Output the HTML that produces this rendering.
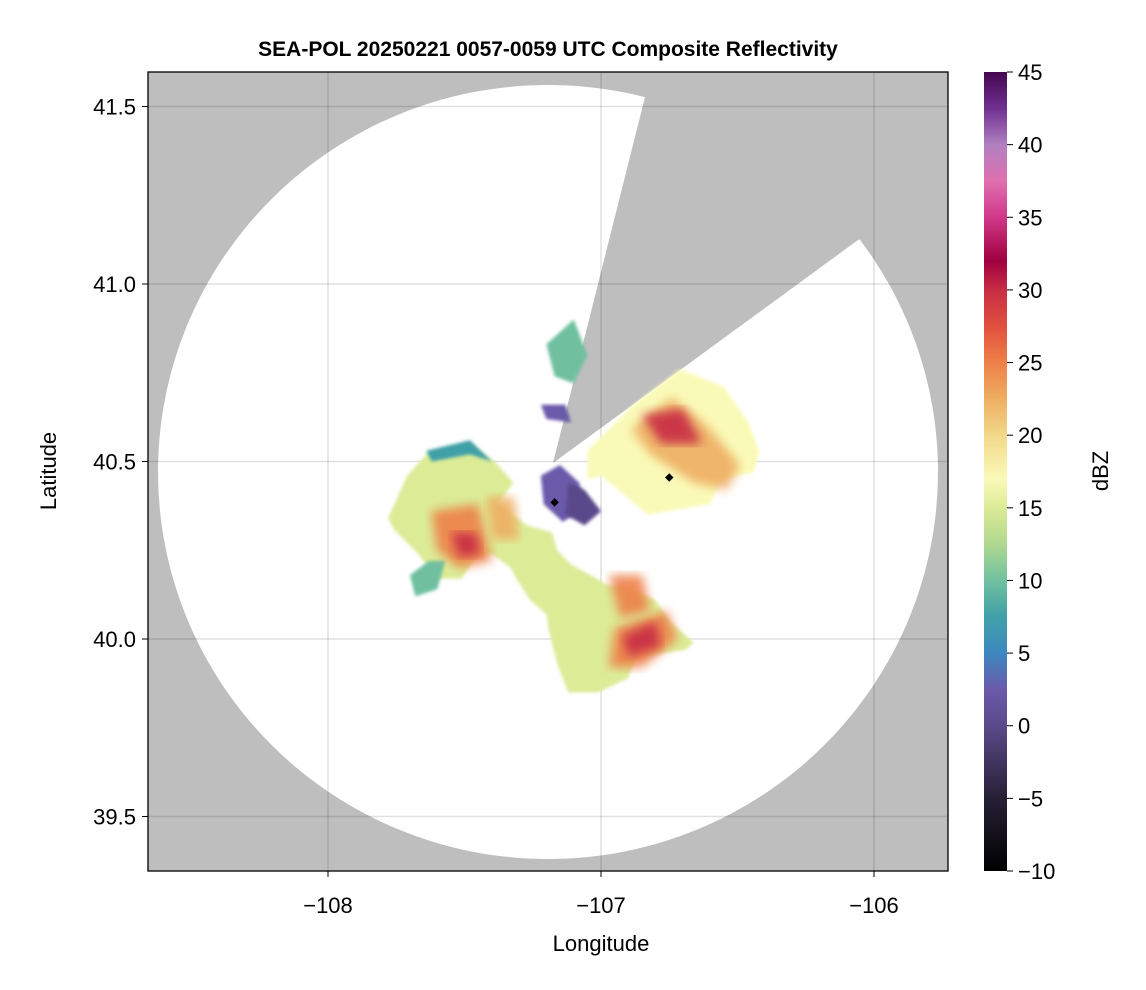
<!DOCTYPE html>
<html><head><meta charset="utf-8"><style>
body{margin:0;background:#fff;}
svg{display:block;font-family:"Liberation Sans",sans-serif;}
</style></head><body>
<svg id="chart" width="1146" height="990" viewBox="0 0 1146 990">
<defs>
<clipPath id="plotclip"><rect x="148" y="72" width="800" height="799"/></clipPath>
<filter id="blur2"><feGaussianBlur stdDeviation="1.5"/></filter>
<filter id="blur5"><feGaussianBlur stdDeviation="5"/></filter>
<linearGradient id="cmap" x1="0" y1="1" x2="0" y2="0"></linearGradient>
</defs>
<text x="548" y="56" text-anchor="middle" font-size="21" font-weight="bold">SEA-POL 20250221 0057-0059 UTC Composite Reflectivity</text>
<g clip-path="url(#plotclip)">
<rect x="148" y="72" width="800" height="799" fill="#bebebe"/>
<ellipse cx="548" cy="472" rx="390" ry="387" fill="#fff"/>
<polygon points="553,463 645,97 647,40 1000,40 1000,200 858,240" fill="#bebebe"/>
<g id="grid"></g>
<g id="echoes"></g>
</g>
<rect x="148" y="72" width="800" height="799" fill="none" stroke="#000" stroke-width="1.3"/>
<g id="axes"></g>
<rect x="984" y="72" width="23" height="799" fill="url(#cmap)"/>
<g id="cbar"></g>
<text x="601" y="951" text-anchor="middle" font-size="22">Longitude</text>
<text transform="translate(56,471) rotate(-90)" text-anchor="middle" font-size="22">Latitude</text>
<text transform="translate(1108,471) rotate(-90)" text-anchor="middle" font-size="22">dBZ</text>
</svg>
<script>
const xTicks=[-108,-107,-106];
const yTicks=[39.5,40.0,40.5,41.0,41.5];
const cbTicks=[-10,-5,0,5,10,15,20,25,30,35,40,45];
const cmapValues=[-10,-5,0,2.5,5,7.5,10,12.5,15,17,20,22.5,25,27.5,30,32,35,37.5,40,42.5,45];
const cmapColors=["#000000","#262035","#5a4a8a","#6a5aaa","#3e88c0","#40a0a8","#70c0a0","#b0d890","#dceb96","#fafab8","#f2d88a","#eeae62","#ee8048","#e0503e","#c82c44","#a00040","#d03888","#e070b0","#b080c0","#703090","#440550"];
const echoNames=["west-south-band","east-cell","nw-arm","north-fragment","north-purple","west-edge-blue","east-core","west-core","west-core2","south-core1","south-core2","south-red","east-red","west-red","clear-air-blue","clear-air-dark"];
const echoDbz=[14,17,10,9,2,7,23,24,22,24,25,31,29,29,2,-1];
const echoPolys=[
[[-107.78,40.34],[-107.71,40.46],[-107.64,40.52],[-107.48,40.55],[-107.39,40.50],[-107.32,40.44],[-107.38,40.38],[-107.27,40.32],[-107.18,40.30],[-107.16,40.25],[-107.11,40.21],[-106.97,40.15],[-106.92,40.15],[-106.80,40.11],[-106.75,40.05],[-106.66,39.99],[-106.69,39.97],[-106.87,39.95],[-106.90,39.89],[-107.01,39.85],[-107.12,39.85],[-107.16,39.93],[-107.19,40.02],[-107.20,40.07],[-107.26,40.11],[-107.31,40.17],[-107.33,40.20],[-107.40,40.24],[-107.46,40.23],[-107.51,40.17],[-107.60,40.17],[-107.67,40.24],[-107.76,40.31]],
[[-107.05,40.45],[-107.05,40.53],[-106.88,40.66],[-106.71,40.76],[-106.55,40.71],[-106.46,40.61],[-106.42,40.53],[-106.44,40.47],[-106.56,40.45],[-106.60,40.38],[-106.76,40.36],[-106.83,40.35],[-106.95,40.43],[-107.00,40.46]],
[[-107.70,40.18],[-107.63,40.22],[-107.57,40.22],[-107.60,40.14],[-107.68,40.12]],
[[-107.20,40.83],[-107.10,40.90],[-107.05,40.80],[-107.10,40.72],[-107.17,40.74]],
[[-107.22,40.66],[-107.13,40.66],[-107.11,40.61],[-107.20,40.62]],
[[-107.64,40.53],[-107.48,40.56],[-107.40,40.50],[-107.48,40.52],[-107.62,40.50]],
[[-106.89,40.59],[-106.74,40.68],[-106.61,40.60],[-106.49,40.49],[-106.54,40.42],[-106.66,40.44],[-106.82,40.52]],
[[-107.62,40.36],[-107.45,40.38],[-107.40,40.22],[-107.52,40.20],[-107.60,40.25]],
[[-107.42,40.40],[-107.32,40.40],[-107.30,40.28],[-107.40,40.28]],
[[-106.97,40.18],[-106.85,40.18],[-106.82,40.08],[-106.93,40.06]],
[[-106.95,40.03],[-106.76,40.08],[-106.72,40.00],[-106.85,39.92],[-106.97,39.92]],
[[-106.92,40.01],[-106.80,40.05],[-106.78,39.98],[-106.90,39.95]],
[[-106.85,40.63],[-106.70,40.65],[-106.63,40.55],[-106.78,40.55]],
[[-107.55,40.30],[-107.46,40.30],[-107.44,40.24],[-107.52,40.23]],
[[-107.22,40.46],[-107.15,40.49],[-107.08,40.44],[-107.06,40.37],[-107.14,40.33],[-107.21,40.38]],
[[-107.12,40.44],[-107.06,40.42],[-107.00,40.36],[-107.06,40.32],[-107.13,40.35]]
];
const xS=v=>601+(v+107)*273;
const yS=v=>639-(v-40)*355;
const ns="http://www.w3.org/2000/svg";
function mk(t,a,p){const e=document.createElementNS(ns,t);for(const k in a)e.setAttribute(k,a[k]);p.appendChild(e);return e;}
function col(v){let b=0,d=1e9;cmapValues.forEach((c,i)=>{if(Math.abs(c-v)<d){d=Math.abs(c-v);b=i;}});return cmapColors[b];}
const grad=document.getElementById('cmap');
for(let i=0;i<cmapValues.length;i++){
 const o=((cmapValues[i]+10)/55*100)+'%';
 mk('stop',{offset:o,'stop-color':cmapColors[i]},grad);
}
const grid=document.getElementById('grid'),axes=document.getElementById('axes'),cb=document.getElementById('cbar'),echo=document.getElementById('echoes');
xTicks.forEach(t=>{
 const g=mk('line',{x1:xS(t),x2:xS(t),y1:72,y2:871,stroke:'rgba(0,0,0,0.12)','stroke-width':1.5},grid);
 
 
 const tk=mk('line',{x1:xS(t),x2:xS(t),y1:871,y2:877,stroke:'#000'},axes);
 
 
 const l=mk('text',{x:xS(t),y:913,'text-anchor':'middle','font-size':22},axes);
 l.textContent=String(t).replace('-','\u2212');
 
 
});
yTicks.forEach(t=>{
 const g=mk('line',{x1:148,x2:948,y1:yS(t),y2:yS(t),stroke:'rgba(0,0,0,0.12)','stroke-width':1.5},grid);
 
 
 const tk=mk('line',{x1:142,x2:148,y1:yS(t),y2:yS(t),stroke:'#000'},axes);
 
 
 const l=mk('text',{x:136,y:yS(t)+8,'text-anchor':'end','font-size':22},axes);
 l.textContent=t.toFixed(1);
 
 
});
cbTicks.forEach(t=>{
 const y=871-(t+10)/55*799;
 const tk=mk('line',{x1:1007,x2:1013,y1:y,y2:y,stroke:'#000'},cb);
 
 
 const l=mk('text',{x:1018,y:y+8,'font-size':22},cb);
 l.textContent=String(t).replace('-','\u2212');
 
 
});
echoPolys.forEach((p,i)=>{
 const pts=p.map(q=>xS(q[0]).toFixed(1)+','+yS(q[1]).toFixed(1)).join(' ');
 const big=i<6||i>=14;
 const e=mk('polygon',{points:pts,fill:col(echoDbz[i]),filter:big?'url(#blur2)':'url(#blur5)',opacity:big?1:0.9},echo);
 
 
});
[[-107.17,40.385],[-106.75,40.455]].forEach(m=>{
 const d=mk('rect',{x:xS(m[0])-3,y:yS(m[1])-3,width:6,height:6,fill:'#000',transform:`rotate(45 ${xS(m[0])} ${yS(m[1])})`},echo);
 
 
});
</script>
</body></html>
